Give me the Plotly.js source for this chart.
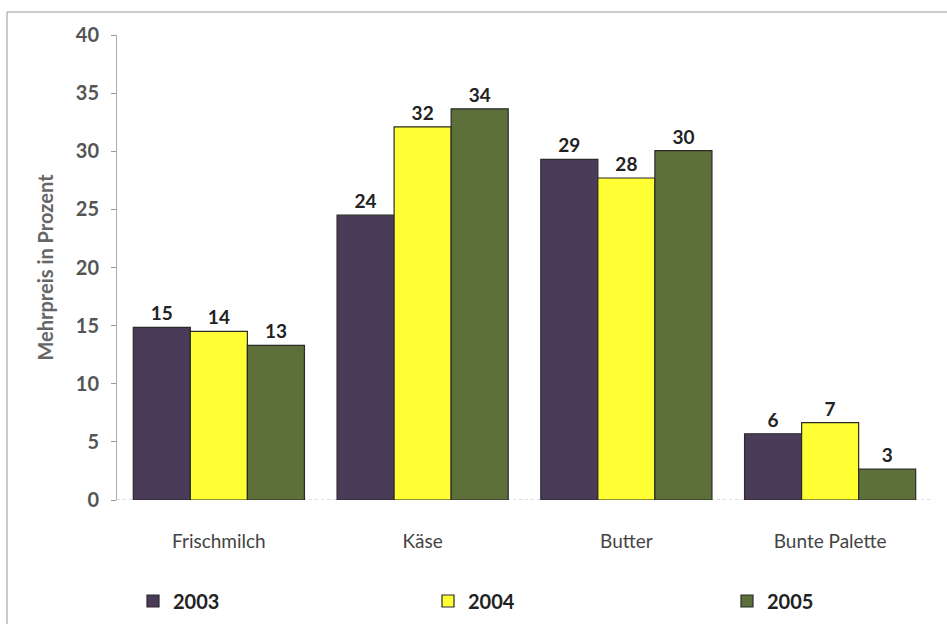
<!DOCTYPE html>
<html><head><meta charset="utf-8">
<script src="https://cdn.plot.ly/plotly-3.0.1.min.js"></script>
<style>html,body{margin:0;padding:0;background:#fff;}#chart{width:947px;height:624px;}</style>
</head><body><div id="chart"></div>
<script>
const categories = ["Frischmilch", "Käse", "Butter", "Bunte Palette"];
const years = ["2003", "2004", "2005"];
const values2003 = [14.85, 24.5, 29.3, 5.7];
const values2004 = [14.5, 32.1, 27.7, 6.65];
const values2005 = [13.3, 33.65, 30.05, 2.65];
const labels2003 = ["15", "24", "29", "6"];
const labels2004 = ["14", "32", "28", "7"];
const labels2005 = ["13", "34", "30", "3"];
const yTicks = [0, 5, 10, 15, 20, 25, 30, 35, 40];

const FONT = "Lato, 'Open Sans', sans-serif";
const colors = ["#4a3b58", "#ffff33", "#5d7039"];
const series = [values2003, values2004, values2005];
const texts = [labels2003, labels2004, labels2005];
const legendIds = ["legend", "legend2", "legend3"];

const data = series.map((v, i) => ({
  type: "bar",
  name: years[i],
  legend: legendIds[i],
  x: categories,
  y: v,
  text: texts[i],
  textposition: "outside",
  cliponaxis: false,
  textfont: {family: FONT, size: 19, color: "#222", weight: "bold"},
  marker: {color: colors[i], line: {color: "#2a2a2a", width: 1.2}},
  hoverinfo: "none"
}));

function legendAt(xpx) {
  return {
    orientation: "h", xref: "container", yref: "container",
    x: xpx / 947, y: 1 - 601 / 624,
    xanchor: "left", yanchor: "middle",
    font: {family: FONT, size: 20, color: "#222", weight: "bold"},
    itemwidth: 30, bgcolor: "rgba(0,0,0,0)", borderwidth: 0
  };
}

const layout = {
  width: 947, height: 624,
  margin: {l: 117, r: 15, t: 35, b: 124, autoexpand: false},
  paper_bgcolor: "#fff", plot_bgcolor: "#fff",
  barmode: "group",
  bargap: 0.16, bargroupgap: 0,
  font: {family: FONT, color: "#444"},
  showlegend: true,
  legend: legendAt(133),
  legend2: legendAt(428),
  legend3: legendAt(727),
  xaxis: {
    type: "category",
    showline: false, showgrid: false, zeroline: false, ticks: "",
    tickfont: {family: FONT, size: 19, color: "#444"},
    ticklabelstandoff: 28
  },
  yaxis: {
    range: [0, 40], tickvals: yTicks, ticktext: yTicks.map(String),
    showline: true, linecolor: "#aaa", linewidth: 1,
    ticks: "outside", ticklen: 5, tickcolor: "#999",
    showgrid: false, zeroline: false,
    tickfont: {family: FONT, size: 20, color: "#555", weight: "bold"},
    ticklabelstandoff: 8,
    title: {text: "Mehrpreis in Prozent", standoff: 16,
            font: {family: FONT, size: 20, color: "#666", weight: "bold"}}
  },
  shapes: [
    {type: "rect", xref: "paper", yref: "paper",
     x0: (7 - 117) / 815, x1: (960 - 117) / 815,
     y0: (500 - 640) / 465, y1: (500 - 12) / 465,
     line: {color: "#999", width: 1}, fillcolor: "rgba(0,0,0,0)", layer: "below"},
    {type: "line", xref: "paper", yref: "y", x0: 0, x1: 1, y0: 0, y1: 0,
     line: {color: "#bbb", width: 1, dash: "dot"}, layer: "below"}
  ]
};

Plotly.newPlot("chart", data, layout, {displayModeBar: false, staticPlot: true});
</script>
</body></html>
